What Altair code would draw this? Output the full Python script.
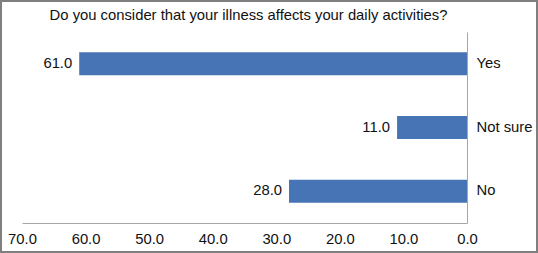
import altair as alt
import pandas as pd

categories = ["Yes", "Not sure", "No"]
values = [61.0, 11.0, 28.0]
x_ticks = [0, 10, 20, 30, 40, 50, 60, 70]
title_text = "Do you consider that your illness affects your daily activities?"

df = pd.DataFrame({"category": categories, "value": values})

FONT = "Liberation Sans"
FS = 14.8
TXT = "#111111"
W, H = 445, 191
PAD = {"left": 22, "top": 32, "right": 71, "bottom": 30}

X = alt.X("value:Q",
          scale=alt.Scale(domain=[0, 70], reverse=True, nice=False, zero=True),
          axis=alt.Axis(values=x_ticks, format=".1f", title=None, grid=False,
                        ticks=False, labelPadding=8, labelFlush=False,
                        domainColor="#a6a6a6",
                        labelColor=TXT, labelFontSize=FS, labelFont=FONT))
Y = alt.Y("category:N", sort=categories,
          scale=alt.Scale(paddingInner=0.64, paddingOuter=0.32),
          axis=alt.Axis(orient="right", title=None, ticks=False, labelPadding=9,
                        domainColor="#a6a6a6", labelColor=TXT,
                        labelFontSize=FS, labelFont=FONT))

base = alt.Chart(df)

bars = base.mark_bar(color="#4674b4").encode(x=X, y=Y)

labels = base.mark_text(align="right", baseline="middle", dx=-7, fontSize=FS,
                        font=FONT, color=TXT).encode(
    x=X, y=Y,
    text=alt.Text("value:Q", format=".1f"),
)

title = alt.Chart(pd.DataFrame({"t": [title_text]})).mark_text(
    align="center", baseline="bottom", fontSize=FS, font=FONT, color=TXT
).encode(
    x=alt.value(W / 2 + 4), y=alt.value(-9), text="t:N"
)

frame = alt.Chart(pd.DataFrame({"k": [0]})).mark_rect(
    fill=None, stroke="#7f7f7f", strokeWidth=2, clip=False
).encode(
    x=alt.value(-PAD["left"] + 1), x2=alt.value(W + PAD["right"] - 1),
    y=alt.value(-PAD["top"] + 1), y2=alt.value(H + PAD["bottom"] - 1),
)

chart = alt.layer(bars, labels, title, frame).properties(
    width=W, height=H,
    padding=PAD,
    background="white",
    autosize=alt.AutoSizeParams(type="none"),
).configure_view(stroke="transparent", strokeWidth=0)

chart.save("out.html", embed_options={"renderer": "svg", "actions": False})
